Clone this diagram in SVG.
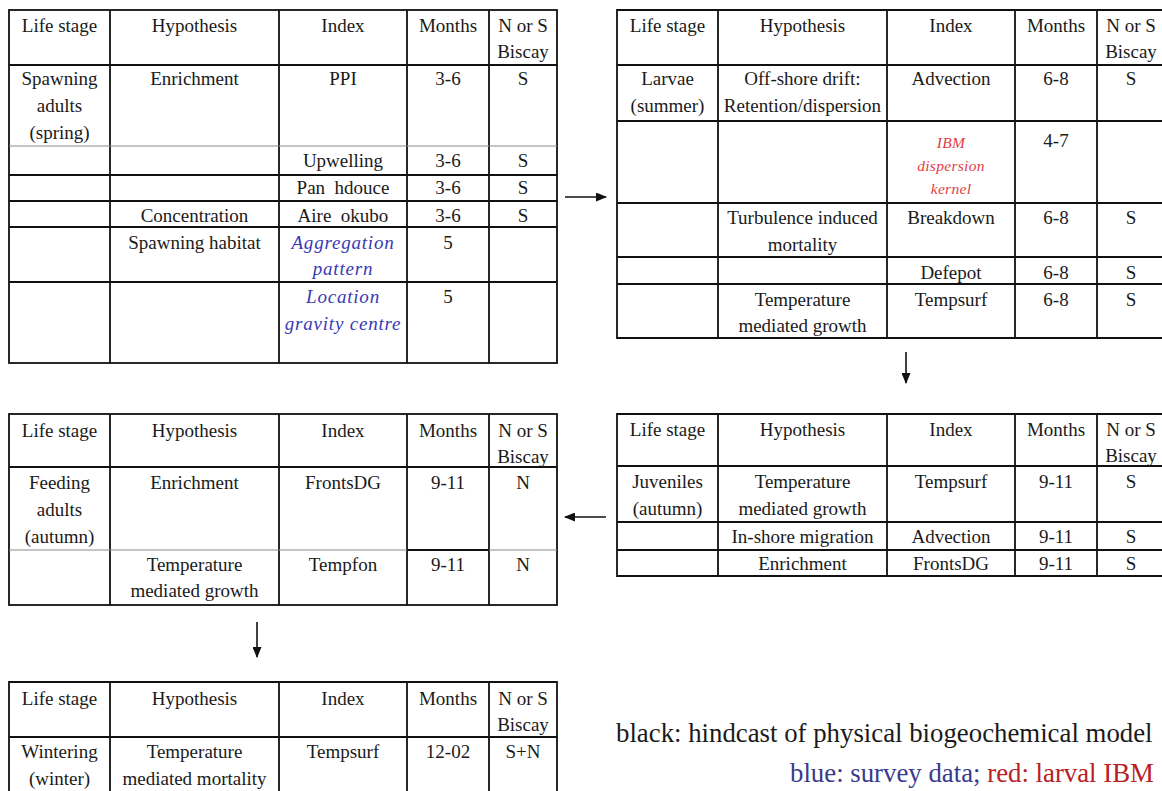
<svg xmlns="http://www.w3.org/2000/svg" width="1162" height="791" viewBox="0 0 1162 791" font-family="'Liberation Serif', 'Times New Roman', serif">
  <defs>
    <style>
      .grid { stroke: #111; stroke-width: 1.8; fill: none; }
      .thin { stroke: #8a8a8a; stroke-width: 1.1; fill: none; }
      text { font-family: "Liberation Serif", "Times New Roman", serif; font-size: 19px; fill: #1a1a1a; text-anchor: middle; }
      .survey { fill: #3a3ab4; font-style: italic; letter-spacing: 0.8px; }
      .ibm { fill: #e23c46; font-style: italic; font-size: 15.5px; letter-spacing: 0.3px; }
      .legend { font-size: 26.8px; text-anchor: start; }
      .conn { stroke: #111; stroke-width: 1.6; fill: none; marker-end: url(#head); }
    </style>
    <marker id="head" markerUnits="userSpaceOnUse" markerWidth="11" markerHeight="9" refX="10" refY="4.5" orient="auto">
      <path d="M0,0 L11,4.5 L0,9 z" fill="#111"/>
    </marker>
  </defs>
  <rect width="1162" height="791" fill="#ffffff"/>

  <!-- Spawning adults (spring) -->
  <g id="stage-spawning">
    <rect class="grid" x="9" y="10" width="548" height="353"/>
    <path class="grid" d="M110,10 V363 M279,10 V363 M407,10 V363 M489,10 V363 M9,65 H557 M9,175 H557 M9,201 H557 M9,227 H557 M9,282 H557"/>
    <path class="thin" d="M9,146 H557"/>
    <text x="59.5" y="32">Life stage</text>
    <text x="194.5" y="32">Hypothesis</text>
    <text x="343" y="32">Index</text>
    <text x="448" y="32">Months</text>
    <text x="523" y="32">N or S</text>
    <text x="523" y="58">Biscay</text>
    <text x="59.5" y="85">Spawning</text>
    <text x="59.5" y="112">adults</text>
    <text x="59.5" y="139">(spring)</text>
    <text x="194.5" y="85">Enrichment</text>
    <text x="343" y="85">PPI</text>
    <text x="448" y="85">3-6</text>
    <text x="523" y="85">S</text>
    <text x="343" y="167">Upwelling</text>
    <text x="448" y="167">3-6</text>
    <text x="523" y="167">S</text>
    <text x="343" y="194" xml:space="preserve">Pan  hdouce</text>
    <text x="448" y="194">3-6</text>
    <text x="523" y="194">S</text>
    <text x="194.5" y="222">Concentration</text>
    <text x="343" y="222" xml:space="preserve">Aire  okubo</text>
    <text x="448" y="222">3-6</text>
    <text x="523" y="222">S</text>
    <text x="194.5" y="249">Spawning habitat</text>
    <text class="survey" x="343" y="249">Aggregation</text>
    <text class="survey" x="343" y="275">pattern</text>
    <text x="448" y="249">5</text>
    <text class="survey" x="343" y="303">Location</text>
    <text class="survey" x="343" y="330">gravity centre</text>
    <text x="448" y="303">5</text>
  </g>

  <!-- Larvae (summer) -->
  <g id="stage-larvae">
    <path class="grid" d="M1170,10 H617 V338 H1170 M718,10 V338 M887,10 V338 M1015,10 V338 M1097,10 V338 M617,65 H1170 M617,121 H1170 M617,203 H1170 M617,257 H1170 M617,284 H1170"/>
    <text x="667.5" y="32">Life stage</text>
    <text x="802.5" y="32">Hypothesis</text>
    <text x="951" y="32">Index</text>
    <text x="1056" y="32">Months</text>
    <text x="1131" y="32">N or S</text>
    <text x="1131" y="58">Biscay</text>
    <text x="667.5" y="85">Larvae</text>
    <text x="667.5" y="112">(summer)</text>
    <text x="802.5" y="85">Off-shore drift:</text>
    <text x="802.5" y="112">Retention/dispersion</text>
    <text x="951" y="85">Advection</text>
    <text x="1056" y="85">6-8</text>
    <text x="1131" y="85">S</text>
    <text class="ibm" x="951" y="148">IBM</text>
    <text class="ibm" x="951" y="171">dispersion</text>
    <text class="ibm" x="951" y="194">kernel</text>
    <text x="1056" y="147">4-7</text>
    <text x="802.5" y="224">Turbulence induced</text>
    <text x="802.5" y="251">mortality</text>
    <text x="951" y="224">Breakdown</text>
    <text x="1056" y="224">6-8</text>
    <text x="1131" y="224">S</text>
    <text x="951" y="279">Defepot</text>
    <text x="1056" y="279">6-8</text>
    <text x="1131" y="279">S</text>
    <text x="802.5" y="306">Temperature</text>
    <text x="802.5" y="332">mediated growth</text>
    <text x="951" y="306">Tempsurf</text>
    <text x="1056" y="306">6-8</text>
    <text x="1131" y="306">S</text>
  </g>

  <!-- Juveniles (autumn) -->
  <g id="stage-juveniles">
    <path class="grid" d="M1170,414 H617 V576 H1170 M718,414 V576 M887,414 V576 M1015,414 V576 M1097,414 V576 M617,466 H1170 M617,522 H1170 M617,550 H1170"/>
    <text x="667.5" y="436">Life stage</text>
    <text x="802.5" y="436">Hypothesis</text>
    <text x="951" y="436">Index</text>
    <text x="1056" y="436">Months</text>
    <text x="1131" y="436">N or S</text>
    <text x="1131" y="462">Biscay</text>
    <text x="667.5" y="488">Juveniles</text>
    <text x="667.5" y="515">(autumn)</text>
    <text x="802.5" y="488">Temperature</text>
    <text x="802.5" y="515">mediated growth</text>
    <text x="951" y="488">Tempsurf</text>
    <text x="1056" y="488">9-11</text>
    <text x="1131" y="488">S</text>
    <text x="802.5" y="543">In-shore migration</text>
    <text x="951" y="543">Advection</text>
    <text x="1056" y="543">9-11</text>
    <text x="1131" y="543">S</text>
    <text x="802.5" y="570">Enrichment</text>
    <text x="951" y="570">FrontsDG</text>
    <text x="1056" y="570">9-11</text>
    <text x="1131" y="570">S</text>
  </g>

  <!-- Feeding adults (autumn) -->
  <g id="stage-feeding">
    <rect class="grid" x="9" y="414" width="548" height="191"/>
    <path class="grid" d="M110,414 V605 M279,414 V605 M407,414 V605 M489,414 V605 M9,467 H557 M407,550 H489"/>
    <path class="thin" d="M9,550 H407 M489,550 H557"/>
    <text x="59.5" y="437">Life stage</text>
    <text x="194.5" y="437">Hypothesis</text>
    <text x="343" y="437">Index</text>
    <text x="448" y="437">Months</text>
    <text x="523" y="437">N or S</text>
    <text x="523" y="463">Biscay</text>
    <text x="59.5" y="489">Feeding</text>
    <text x="59.5" y="516">adults</text>
    <text x="59.5" y="543">(autumn)</text>
    <text x="194.5" y="489">Enrichment</text>
    <text x="343" y="489">FrontsDG</text>
    <text x="448" y="489">9-11</text>
    <text x="523" y="489">N</text>
    <text x="194.5" y="571">Temperature</text>
    <text x="194.5" y="597">mediated growth</text>
    <text x="343" y="571">Tempfon</text>
    <text x="448" y="571">9-11</text>
    <text x="523" y="571">N</text>
  </g>

  <!-- Wintering (winter) -->
  <g id="stage-wintering">
    <path class="grid" d="M9,800 V682 H557 V800 M110,682 V800 M279,682 V800 M407,682 V800 M489,682 V800 M9,737 H557"/>
    <text x="59.5" y="705">Life stage</text>
    <text x="194.5" y="705">Hypothesis</text>
    <text x="343" y="705">Index</text>
    <text x="448" y="705">Months</text>
    <text x="523" y="705">N or S</text>
    <text x="523" y="731">Biscay</text>
    <text x="59.5" y="758">Wintering</text>
    <text x="59.5" y="785">(winter)</text>
    <text x="194.5" y="758">Temperature</text>
    <text x="194.5" y="785">mediated mortality</text>
    <text x="343" y="758">Tempsurf</text>
    <text x="448" y="758">12-02</text>
    <text x="523" y="758">S+N</text>
  </g>

  <!-- life-cycle arrows -->
  <g id="connectors">
    <path class="conn" d="M565,197 H606"/>
    <path class="conn" d="M906,352 V383"/>
    <path class="conn" d="M606,517 H565"/>
    <path class="conn" d="M257,622 V657"/>
  </g>

  <!-- colour key -->
  <g id="legend">
    <text class="legend" x="616" y="742">black: hindcast of physical biogeochemical model</text>
    <text class="legend" x="790" y="782"><tspan fill="#3a3a8c">blue: survey data; </tspan><tspan fill="#b82025">red: larval IBM</tspan></text>
  </g>
</svg>
